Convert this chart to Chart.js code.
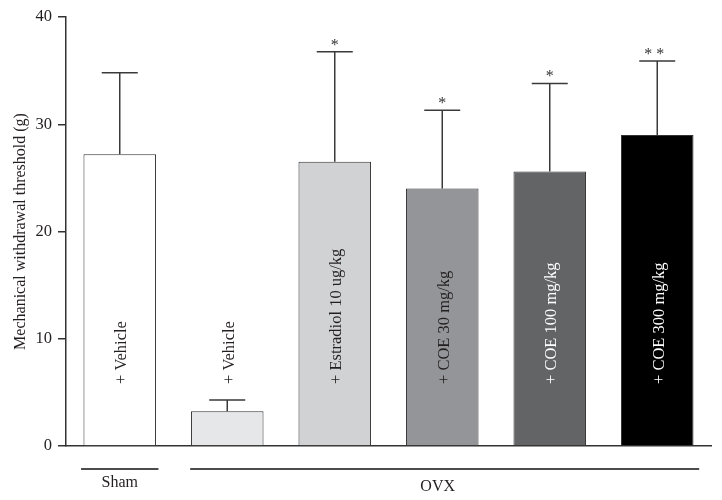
<!DOCTYPE html>
<html>
<head>
<meta charset="utf-8">
<script src="https://cdn.jsdelivr.net/npm/chart.js@4"></script>
<style>
html,body{margin:0;padding:0;background:#fff;}
#wrap{width:722px;height:500px;position:relative;}
</style>
</head>
<body>
<div id="wrap"><canvas id="c" width="722" height="500"></canvas></div>
<script>
// ---- data ----
const categories = ['+ Vehicle', '+ Vehicle', '+ Estradiol 10 ug/kg', '+ COE 30 mg/kg', '+ COE 100 mg/kg', '+ COE 300 mg/kg'];
const means = [27.2, 3.25, 26.5, 24.0, 25.6, 29.0];
const upperErrors = [34.8, 4.3, 36.75, 31.3, 33.8, 35.9];
const significance = ['', '', '*', '*', '*', '* *'];
const groupNames = ['Sham', 'OVX'];
const groupStart = [0, 1];
const groupEnd = [0, 5];
const yTicks = [0, 10, 20, 30, 40];
const barColors = ['#ffffff', '#e6e7e8', '#d1d2d4', '#939598', '#636466', '#000000'];
const labelColors = ['#231f20', '#231f20', '#231f20', '#231f20', '#ffffff', '#ffffff'];

const FONT = '"Liberation Serif", "DejaVu Serif", serif';
const INK = '#231f20';

const annotate = {
  id: 'annotate',
  afterDatasetsDraw(chart) {
    const ctx = chart.ctx;
    const x = chart.scales.x, y = chart.scales.y;
    const step = x.getPixelForValue(1) - x.getPixelForValue(0);
    ctx.save();
    // error bars
    ctx.strokeStyle = '#3a3a3a';
    ctx.lineWidth = 1.5;
    means.forEach((m, i) => {
      const cx = x.getPixelForValue(i);
      const yt = y.getPixelForValue(m);
      const ye = y.getPixelForValue(upperErrors[i]);
      ctx.beginPath();
      ctx.moveTo(cx, yt); ctx.lineTo(cx, ye);
      ctx.moveTo(cx - 18, ye); ctx.lineTo(cx + 18, ye);
      ctx.stroke();
      // significance
      if (significance[i]) {
        ctx.fillStyle = '#333';
        ctx.font = '16px ' + FONT;
        ctx.textAlign = 'center';
        ctx.textBaseline = 'alphabetic';
        ctx.fillText(significance[i], cx - (significance[i].length > 1 ? 3 : 0), ye - 2);
      }
      // in-bar label
      ctx.save();
      ctx.translate(cx + 2, y.getPixelForValue(0) - 62);
      ctx.rotate(-Math.PI / 2);
      ctx.fillStyle = labelColors[i];
      ctx.font = '16.5px ' + FONT;
      ctx.textAlign = 'left';
      ctx.textBaseline = 'middle';
      ctx.fillText(categories[i], 0, 0);
      ctx.restore();
    });
    // group lines and labels
    ctx.strokeStyle = '#111';
    ctx.lineWidth = 1.3;
    ctx.fillStyle = INK;
    ctx.font = '16px ' + FONT;
    ctx.textAlign = 'center';
    ctx.textBaseline = 'alphabetic';
    groupNames.forEach((g, k) => {
      const single = groupStart[k] === groupEnd[k];
      const x0 = x.getPixelForValue(groupStart[k]) - (single ? 0.36 : 0.345) * step;
      const x1 = x.getPixelForValue(groupEnd[k]) + (single ? 0.36 : 0.39) * step;
      const ly = y.getPixelForValue(0) + 23;
      ctx.beginPath();
      ctx.moveTo(x0, ly); ctx.lineTo(x1, ly);
      ctx.stroke();
      const tx = single ? (x0 + x1) / 2 : (x0 + x1) / 2 - 7;
      ctx.fillText(g, tx, single ? 487 : 491);
    });
    ctx.restore();
  }
};

new Chart(document.getElementById('c'), {
  type: 'bar',
  data: {
    labels: categories.map((c, i) => i),
    datasets: [{
      data: means,
      backgroundColor: barColors,
      borderColor: '#333333',
      borderWidth: 1,
      borderSkipped: 'bottom',
      barPercentage: 0.675,
      categoryPercentage: 1.0
    }]
  },
  options: {
    responsive: false,
    animation: false,
    devicePixelRatio: 1,
    layout: { padding: { left: 0, top: 17, right: 11, bottom: 0 } },
    plugins: { legend: { display: false }, tooltip: { enabled: false } },
    scales: {
      x: {
        ticks: { display: false },
        grid: { display: true, drawOnChartArea: false, drawTicks: false },
        border: { display: true, color: '#333', width: 1.5 },
        afterFit(s) { s.height = 54; }
      },
      y: {
        min: 0, max: 40,
        afterBuildTicks(s) { s.ticks = yTicks.map(v => ({ value: v })); },
        ticks: { color: INK, font: { family: FONT, size: 16.5 }, padding: 6 },
        grid: { display: true, drawOnChartArea: false, drawTicks: true, tickLength: 8, color: '#333', lineWidth: 1.5 },
        border: { display: true, color: '#333', width: 1.5 },
        title: { display: true, text: 'Mechanical withdrawal threshold (g)', color: INK, font: { family: FONT, size: 16 }, padding: { top: 11, bottom: 0 } },
        afterFit(s) { s.width = 66; }
      }
    }
  },
  plugins: [annotate]
});
</script>
</body>
</html>
